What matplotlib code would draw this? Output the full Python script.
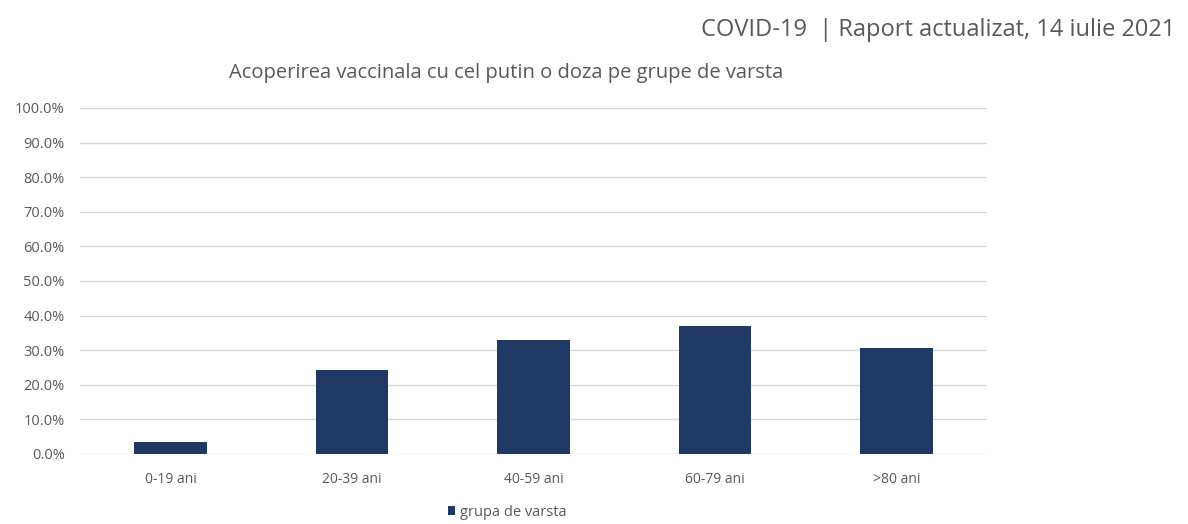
import matplotlib
matplotlib.use("Agg")
import matplotlib.pyplot as plt
from matplotlib.ticker import PercentFormatter

categories = ["0-19 ani", "20-39 ani", "40-59 ani", "60-79 ani", ">80 ani"]
coverage = [0.036, 0.243, 0.328, 0.369, 0.306]
yticks = [i / 10 for i in range(11)]

title = "Acoperirea vaccinala cu cel putin o doza pe grupe de varsta"
header = "COVID-19  | Raport actualizat, 14 iulie 2021"
series_name = "grupa de varsta"

plt.rcParams["font.family"] = ["Open Sans", "DejaVu Sans"]
text_grey = "#595959"
bar_color = "#1f3864"

fig = plt.figure(figsize=(11.88, 5.24), dpi=100)
ax = fig.add_axes([0.0673, 0.1336, 0.7637, 0.6604])

ax.bar(categories, coverage, width=0.4, color=bar_color, label=series_name, zorder=3)
ax.set_xlim(-0.5, len(categories) - 0.5)
ax.set_ylim(0, 1)
ax.set_yticks(yticks)
ax.yaxis.set_major_formatter(PercentFormatter(1.0, decimals=1))
ax.grid(axis="y", color="#d9d9d9", linewidth=1, zorder=0)
for s in ax.spines.values():
    s.set_visible(False)
ax.tick_params(axis="both", length=0, colors=text_grey)
ax.tick_params(axis="y", pad=11, labelsize=10.5)
ax.tick_params(axis="x", pad=13, labelsize=10)

fig.text(0.426, 0.861, title, ha="center", va="center", fontsize=14.5, color=text_grey)
fig.text(0.989, 0.943, header, ha="right", va="center", fontsize=17, color=text_grey)

ax.legend(loc="center", bbox_to_anchor=(0.471, -0.168), frameon=False, fontsize=10.5,
          handlelength=0.5, handleheight=0.5, handletextpad=0.35, labelcolor=text_grey,
          borderpad=0)

fig.savefig("out.png", dpi=100, facecolor="white")
